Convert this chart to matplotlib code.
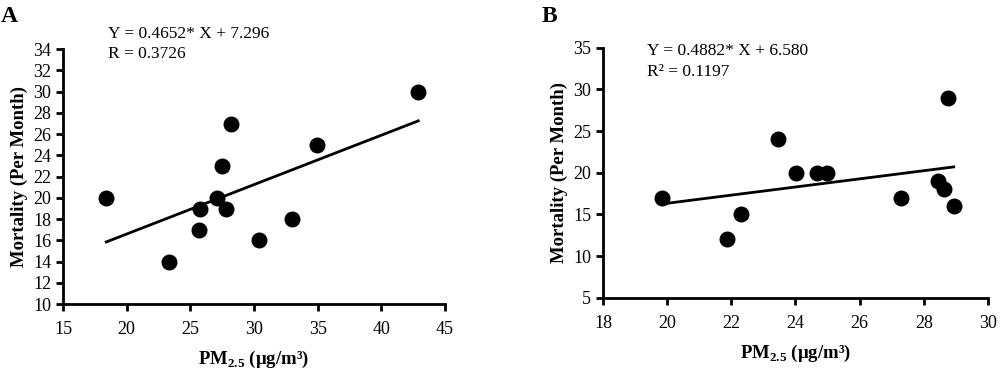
import matplotlib
matplotlib.use("Agg")
import matplotlib.pyplot as plt
import numpy as np

plt.rcParams['font.family'] = ['Liberation Serif', 'DejaVu Serif']
plt.rcParams['mathtext.fontset'] = 'custom'
plt.rcParams['mathtext.rm'] = 'Liberation Serif'
plt.rcParams['mathtext.bf'] = 'Liberation Serif:bold'

# Panel A data
a_pm = [18.4, 23.3, 25.7, 25.75, 27.1, 27.5, 27.8, 28.2, 30.4, 33.0, 34.95, 42.9]
a_mort = [20, 14, 17, 19, 20, 23, 19, 27, 16, 18, 25, 30]
a_slope, a_icpt = 0.4652, 7.296
a_eq = ["Y = 0.4652* X + 7.296", "R = 0.3726"]
a_xticks = [15, 20, 25, 30, 35, 40, 45]
a_yticks = list(range(10, 35, 2))

# Panel B data
b_pm = [19.85, 21.87, 22.31, 23.46, 24.03, 24.67, 24.98, 27.3, 28.44, 28.62, 28.75, 28.93]
b_mort = [17, 12, 15, 24, 20, 20, 20, 17, 19, 18, 29, 16]
b_slope, b_icpt = 0.4882, 6.580
b_eq = ["Y = 0.4882* X + 6.580", "R\u00b2 = 0.1197"]
b_xticks = [18, 20, 22, 24, 26, 28, 30]
b_yticks = [5, 10, 15, 20, 25, 30, 35]

fig = plt.figure(figsize=(10, 3.7), dpi=100)
axA = fig.add_axes([0.063, 0.178, 0.382, 0.689])
axB = fig.add_axes([0.603, 0.195, 0.385, 0.676])

xlabel_txt = "PM$_{\\mathbf{2.5}}$ (\u03bcg/m\u00b3)"

def draw(ax, xs, ys, slope, icpt, eq, xt, yt, eqx, eqy1, eqy2):
    xs = np.array(xs)
    lx = np.array([xs.min(), xs.max()])
    ax.plot(lx, slope * lx + icpt, color='black', lw=2)
    ax.scatter(xs, ys, s=110, color='black', zorder=3, clip_on=False)
    ax.set_xlim(xt[0], xt[-1])
    ax.set_ylim(yt[0], yt[-1])
    ax.set_xticks(xt)
    ax.set_yticks(yt)
    for s in ['top', 'right']:
        ax.spines[s].set_visible(False)
    for s in ['left', 'bottom']:
        ax.spines[s].set_linewidth(2)
    ax.tick_params(direction='out', length=5, width=2, labelsize=13)
    ax.tick_params(axis='x', pad=7)
    ax.set_ylabel("Mortality (Per Month)", fontsize=13.5, fontweight='bold', labelpad=4)
    ax.set_xlabel(xlabel_txt, fontsize=13.5, fontweight='bold', labelpad=8)
    ax.text(eqx, eqy1, eq[0], transform=ax.transAxes, fontsize=12.5, va='center', ha='left')
    ax.text(eqx, eqy2, eq[1], transform=ax.transAxes, fontsize=12.5, va='center', ha='left')

draw(axA, a_pm, a_mort, a_slope, a_icpt, a_eq, a_xticks, a_yticks, 0.118, 1.059, 0.980)
draw(axB, b_pm, b_mort, b_slope, b_icpt, b_eq, b_xticks, b_yticks, 0.115, 0.987, 0.903)

fig.text(0.001, 0.985, "A", fontsize=17, fontweight='bold', va='top')
fig.text(0.542, 0.985, "B", fontsize=17, fontweight='bold', va='top')

fig.savefig("out.png", dpi=100)
